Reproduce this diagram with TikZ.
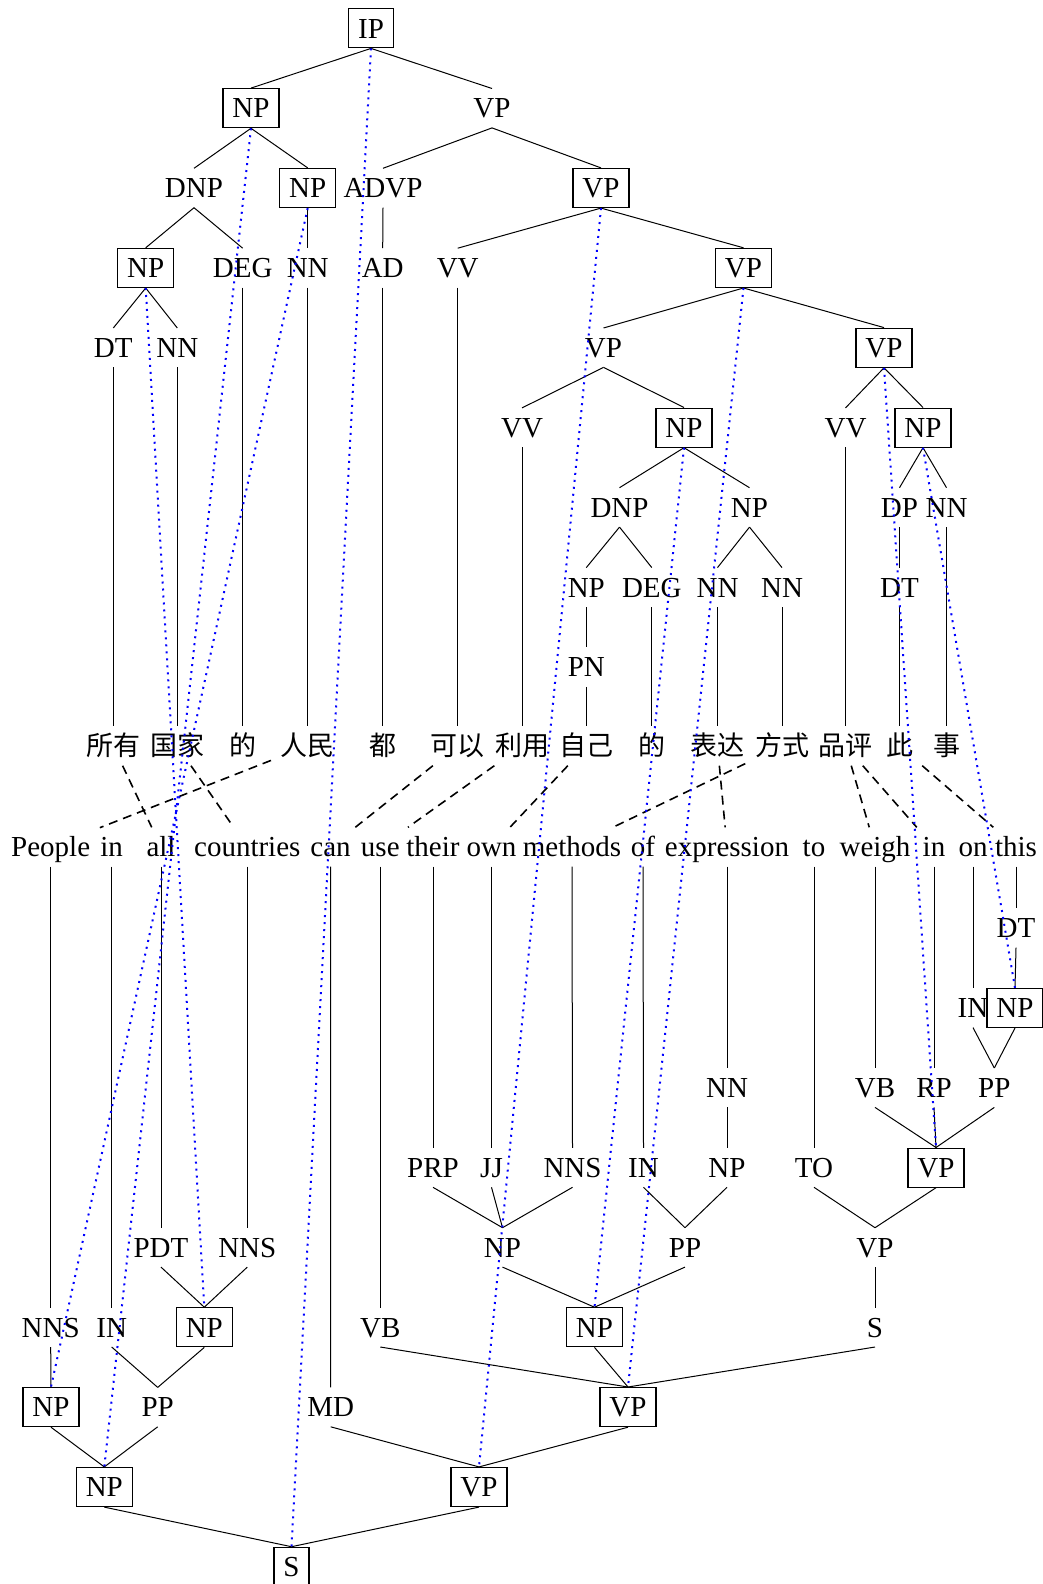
\documentclass[tikz,border=0pt]{standalone}
\usepackage{fontspec}
\setmainfont{Liberation Serif}
\newfontfamily\cjk{Noto Sans CJK SC}
\begin{document}
\begin{tikzpicture}[x=1pt,y=-1pt,
  lbl/.style={inner xsep=9.5pt, inner ysep=9.75pt, text height=19.5pt, text depth=0pt, font=\fontsize{29}{30}\selectfont},
  bx/.style={lbl, draw, line width=1.2pt},
  zh/.style={lbl, font=\cjk\fontsize{27}{28}\selectfont},
  edge/.style={line width=1pt},
  al/.style={dash pattern=on 9pt off 6pt, line width=1.6pt},
  lk/.style={blue, dash pattern=on 2pt off 5pt, line width=2pt}]
\useasboundingbox (0,0) rectangle (1043,1584);
% ---------- top tree ----------
\node[bx]  (IP)    at (371,28.3)    {IP};
\node[bx]  (tNP1)  at (251,108.2)   {NP};
\node[lbl] (tVP1)  at (492,108.2)   {VP};
\node[lbl] (tDNP2) at (194,188)     {DNP};
\node[bx]  (tNP2)  at (307.7,188)   {NP};
\node[lbl] (tADVP2) at (383,188)    {ADVP};
\node[bx]  (tVP2)  at (601,188)     {VP};
\node[bx]  (tNP3)  at (145.7,267.9) {NP};
\node[lbl] (tDEG3) at (242.7,267.9) {DEG};
\node[lbl] (tNN3)  at (307.7,267.9) {NN};
\node[lbl] (tAD3)  at (382.7,267.9) {AD};
\node[lbl] (tVV3)  at (457.7,267.9) {VV};
\node[bx]  (tVP3)  at (743.5,267.9) {VP};
\node[lbl] (tDT4)  at (113.3,347.7) {DT};
\node[lbl] (tNN4)  at (177.3,347.7) {NN};
\node[lbl] (tVP4a) at (603.5,347.7) {VP};
\node[bx]  (tVP4b) at (884,347.7)   {VP};
\node[lbl] (tVV5a) at (522,427.6)   {VV};
\node[bx]  (tNP5a) at (684,427.6)   {NP};
\node[lbl] (tVV5b) at (845.5,427.6) {VV};
\node[bx]  (tNP5b) at (923,427.6)   {NP};
\node[lbl] (tDNP6) at (619.5,507.4) {DNP};
\node[lbl] (tNP6)  at (749.5,507.4) {NP};
\node[lbl] (tDP6)  at (899.5,507.4) {DP};
\node[lbl] (tNN6)  at (946.5,507.4) {NN};
\node[lbl] (tNP7)  at (586.3,587.3) {NP};
\node[lbl] (tDEG7) at (651.8,587.3) {DEG};
\node[lbl] (tNN7a) at (717.5,587.3) {NN};
\node[lbl] (tNN7b) at (782,587.3)   {NN};
\node[lbl] (tDT7)  at (899.5,587.3) {DT};
\node[lbl] (tPN8)  at (586.3,667.1) {PN};
% ---------- Chinese words ----------
\node[zh] (z1)  at (113.3,746) {所有};
\node[zh] (z2)  at (177.3,746) {国家};
\node[zh] (z3)  at (242.7,746) {的};
\node[zh] (z4)  at (307.7,746) {人民};
\node[zh] (z5)  at (382.7,746) {都};
\node[zh] (z6)  at (457.7,746) {可以};
\node[zh] (z7)  at (522,746)   {利用};
\node[zh] (z8)  at (586.3,746) {自己};
\node[zh] (z9)  at (651.8,746) {的};
\node[zh] (z10) at (717.5,746) {表达};
\node[zh] (z11) at (782,746)   {方式};
\node[zh] (z12) at (845.5,746) {品评};
\node[zh] (z13) at (899.5,746) {此};
\node[zh] (z14) at (946.5,746) {事};
% ---------- English words ----------
\node[lbl] (e1)  at (50.7,847)  {People};
\node[lbl] (e2)  at (111.7,847) {in};
\node[lbl] (e3)  at (161,847)   {all};
\node[lbl] (e4)  at (247.3,847) {countries};
\node[lbl] (e5)  at (330.5,847) {can};
\node[lbl] (e6)  at (380.3,847) {use};
\node[lbl] (e7)  at (433,847)   {their};
\node[lbl] (e8)  at (491.5,847) {own};
\node[lbl] (e9)  at (572,847)   {methods};
\node[lbl] (e10) at (643,847)   {of};
\node[lbl] (e11) at (727,847)   {expression};
\node[lbl] (e12) at (814,847)   {to};
\node[lbl] (e13) at (875,847)   {weigh};
\node[lbl] (e14) at (934,847)   {in};
\node[lbl] (e15) at (973,847)   {on};
\node[lbl] (e16) at (1016,847)  {this};
% ---------- bottom tree ----------
\node[lbl] (bDT0)  at (1016,928)    {DT};
\node[lbl] (bIN1)  at (973,1007.9)  {IN};
\node[bx]  (bNP1)  at (1015,1007.9) {NP};
\node[lbl] (bNN2)  at (727,1087.7)  {NN};
\node[lbl] (bVB2)  at (875,1087.7)  {VB};
\node[lbl] (bRP2)  at (934,1087.7)  {RP};
\node[lbl] (bPP2)  at (994.3,1087.7) {PP};
\node[lbl] (bPRP3) at (433,1167.6)  {PRP};
\node[lbl] (bJJ3)  at (491.5,1167.6) {JJ};
\node[lbl] (bNNS3) at (572.5,1167.6) {NNS};
\node[lbl] (bIN3)  at (643.5,1167.6) {IN};
\node[lbl] (bNP3)  at (727,1167.6)  {NP};
\node[lbl] (bTO3)  at (814,1167.6)  {TO};
\node[bx]  (bVP3)  at (936,1167.6)  {VP};
\node[lbl] (bPDT4) at (161,1247.4)  {PDT};
\node[lbl] (bNNS4) at (247.3,1247.4) {NNS};
\node[lbl] (bNP4)  at (502.5,1247.4) {NP};
\node[lbl] (bPP4)  at (685,1247.4)  {PP};
\node[lbl] (bVP4)  at (875,1247.4)  {VP};
\node[lbl] (bNNS5) at (50.7,1327.3) {NNS};
\node[lbl] (bIN5)  at (111.7,1327.3) {IN};
\node[bx]  (bNP5a) at (204.3,1327.3) {NP};
\node[lbl] (bVB5)  at (380.3,1327.3) {VB};
\node[bx]  (bNP5b) at (594.5,1327.3) {NP};
\node[lbl] (bS5)   at (875,1327.3)  {S};
\node[bx]  (bNP6)  at (51,1407.1)   {NP};
\node[lbl] (bPP6)  at (157.7,1407.1) {PP};
\node[lbl] (bMD6)  at (330.7,1407.1) {MD};
\node[bx]  (bVP6)  at (628,1407.1)  {VP};
\node[bx]  (bNP7)  at (104.3,1487)  {NP};
\node[bx]  (bVP7)  at (479,1487)    {VP};
\node[bx]  (bS8)   at (291.5,1566.8) {S};
% ---------- top tree edges ----------
\begin{scope}[edge]
\foreach \p/\c in {IP/tNP1, IP/tVP1, tNP1/tDNP2, tNP1/tNP2, tDNP2/tNP3, tDNP2/tDEG3,
  tNP3/tDT4, tNP3/tNN4, tNP2/tNN3, tVP1/tADVP2, tVP1/tVP2, tADVP2/tAD3,
  tVP2/tVV3, tVP2/tVP3, tVP3/tVP4a, tVP3/tVP4b, tVP4a/tVV5a, tVP4a/tNP5a,
  tNP5a/tDNP6, tNP5a/tNP6, tDNP6/tNP7, tDNP6/tDEG7, tNP7/tPN8, tNP6/tNN7a, tNP6/tNN7b,
  tVP4b/tVV5b, tVP4b/tNP5b, tNP5b/tDP6, tNP5b/tNN6, tDP6/tDT7,
  tDT4/z1, tNN4/z2, tDEG3/z3, tNN3/z4, tAD3/z5, tVV3/z6, tVV5a/z7, tPN8/z8,
  tDEG7/z9, tNN7a/z10, tNN7b/z11, tVV5b/z12, tDT7/z13, tNN6/z14}
  \draw (\p.south) -- (\c.north);
% ---------- bottom tree edges (upper node first) ----------
\foreach \c/\p in {e1/bNNS5, e2/bIN5, e3/bPDT4, e4/bNNS4, e5/bMD6, e6/bVB5, e7/bPRP3,
  e8/bJJ3, e9/bNNS3, e10/bIN3, e11/bNN2, e12/bTO3, e13/bVB2, e14/bRP2, e15/bIN1, e16/bDT0,
  bDT0/bNP1, bIN1/bPP2, bNP1/bPP2, bVB2/bVP3, bRP2/bVP3, bPP2/bVP3, bNN2/bNP3,
  bTO3/bVP4, bVP3/bVP4, bVP4/bS5, bPRP3/bNP4, bJJ3/bNP4, bNNS3/bNP4,
  bIN3/bPP4, bNP3/bPP4, bNP4/bNP5b, bPP4/bNP5b, bVB5/bVP6, bNP5b/bVP6, bS5/bVP6,
  bMD6/bVP7, bVP6/bVP7, bPDT4/bNP5a, bNNS4/bNP5a, bIN5/bPP6, bNP5a/bPP6,
  bNNS5/bNP6, bNP6/bNP7, bPP6/bNP7, bNP7/bS8, bVP7/bS8}
  \draw (\c.south) -- (\p.north);
\end{scope}
% ---------- word alignments ----------
\foreach \a/\b in {z1/e3, z2/e4, z4/e1, z6/e5, z7/e6, z8/e8, z10/e11, z11/e9,
  z12/e13, z12/e14, z13/e16}
  \draw[al] (\a) -- (\b);
% ---------- node alignments ----------
\foreach \a/\b in {IP/bS8, tNP1/bNP7, tNP2/bNP6, tNP3/bNP5a, tVP2/bVP7, tVP3/bVP6,
  tNP5a/bNP5b, tVP4b/bVP3, tNP5b/bNP1}
  \draw[lk] (\a.south) -- (\b.north);
\end{tikzpicture}
\end{document}
